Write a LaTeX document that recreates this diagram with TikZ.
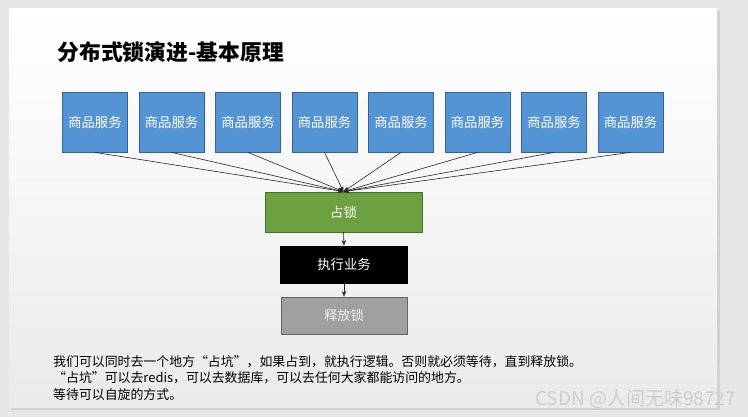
\documentclass[tikz,border=0pt]{standalone}
\usepackage{fontspec}
\usepackage{tikz}
\usetikzlibrary{arrows.meta,positioning,calc}
\setmainfont{Noto Sans CJK SC}
\newfontfamily\cjk{Noto Sans CJK SC}
\definecolor{pageGrey}{RGB}{230, 231, 230}
\definecolor{slideBottom}{RGB}{233, 235, 234}
\definecolor{svcBlue}{RGB}{84, 148, 212}
\definecolor{svcEdge}{RGB}{52, 98, 150}
\definecolor{lockGreen}{RGB}{108, 160, 64}
\definecolor{lockEdge}{RGB}{70, 110, 40}
\definecolor{relGrey}{RGB}{160, 160, 160}
\definecolor{relEdge}{RGB}{100, 100, 100}
\definecolor{markGrey}{RGB}{204, 206, 208}

\tikzset{
  svcbox/.style={draw=svcEdge, fill=svcBlue, line width=0.8pt, minimum width=65pt, minimum height=60pt,
    inner sep=0pt, text=white, font=\cjk\fontsize{13.3pt}{15pt}\selectfont},
  stagebox/.style={line width=0.8pt, inner sep=0pt, text=white, font=\cjk\fontsize{13.3pt}{15pt}\selectfont},
  feed/.style={-{Stealth[length=5.5pt,width=4.5pt]}, line width=0.6pt, black!85},
}

\begin{document}
\begin{tikzpicture}[x=1pt, y=-1pt]
  % page and slide
  \fill[pageGrey] (0,0) rectangle (748,417);
  \fill[black!18] (11,11) rectangle (720,410);
  \shade[top color=white, bottom color=slideBottom] (9,9) rectangle (717,407);
  \useasboundingbox (0,0) rectangle (748,417);

  \node[anchor=west, font=\cjk\bfseries\fontsize{21.8pt}{25pt}\selectfont] (title) at (54,52) {分布式锁演进-基本原理};

  % services
  \foreach \i in {1,...,8} {
    \node[svcbox] (svc\i) at ({95+76.5*(\i-1)},122) {商品服务};
  }

  \node[stagebox, draw=lockEdge, fill=lockGreen, minimum width=157pt, minimum height=40pt] (lock) at (343.5,212) {占锁};
  \node[stagebox, draw=black, fill=black, minimum width=127pt, minimum height=37pt] (biz) at (344,264.5) {执行业务};
  \node[stagebox, draw=relEdge, fill=relGrey, minimum width=126pt, minimum height=37pt, text=white!94!black] (release) at (344,315.5) {释放锁};

  \foreach \i in {1,...,8} {
    \draw[feed] (svc\i.south) -- (lock.north);
  }
  \draw[feed] (lock.south) -- (biz.north);
  \draw[feed] (biz.south) -- (release.north);

  % notes
  \node[anchor=north west, align=left, inner sep=0pt, font=\cjk\fontsize{12.9pt}{16.5pt}\selectfont] (notes) at (53,355) {%
    我们可以同时去一个地方“占坑”，如果占到，就执行逻辑。否则就必须等待，直到释放锁。\\
    “占坑”可以去redis，可以去数据库，可以去任何大家都能访问的地方。\\
    等待可以自旋的方式。};

  \node[anchor=east, inner sep=0pt, text=markGrey, font=\cjk\fontsize{19pt}{22pt}\selectfont] (mark) at (736,399) {CSDN @人间无味98727};
\end{tikzpicture}
\end{document}
